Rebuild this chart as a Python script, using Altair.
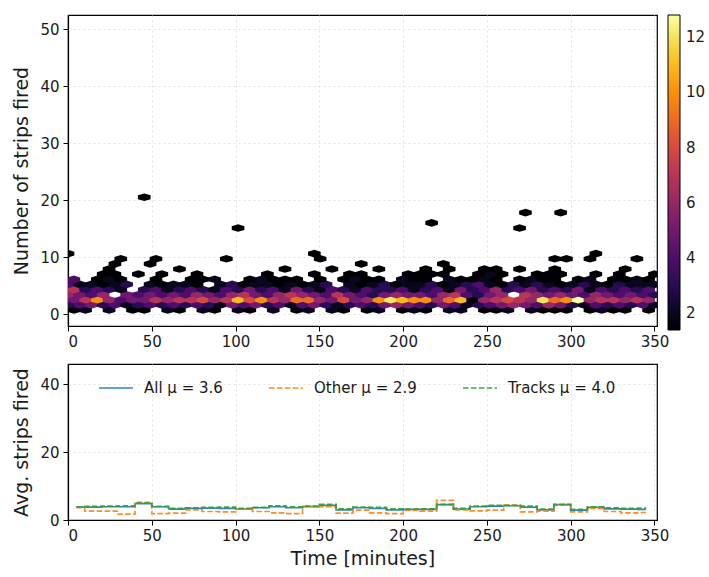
import altair as alt
import pandas as pd

# ---------------- hexbin cells (top panel) ----------------
# one string per hexagon row r (centre y = 0.7 + 0.9*r strips)
# even rows: centres at x = 3.5 + 7*i minutes ; odd rows: x = 7*i minutes
# '.' = empty bin, '1'..'9','a'..'d' = 1..13 events per bin
hex_rows = [
    "12.2.11.21" ".21.21.2.1" "2.21.12.12" "1.22.112.2" "111.1211.1",        # r0
    "3453423434" "3432545342" "4532343565" "4354234565" "4653243434" "2",    # r1
    "57a6455767" "7867b8a769" "965856acba" "a69b167876" "c9ad677676",        # r2
    "6546.54545" "4654675467" "6547543565" "54674356.7" "6565465454" "3",    # r3
    "73432.3423" "4324353425" "3243243342" "3425346345" "3435243434",        # r4
    "422123.212" "21.2312212" "123.212312" "2312342132" "3212321322" "2",    # r5
    "4.121..1.." "112..12111" ".1.1211.21" "1.21121.12" "11.12.1121",        # r6
    "...11.1.1." ".1.....1.." ".1..11...1" "111..121.." "111..1.1.." "1",    # r7
    "...1.....1" "........1." "..1...1..." "1.1..11.1." ".1.....1..",        # r8
    "....1..1.." ".........." ".....1...." "..1.......",                     # r9
    "....1..1.." "...1......" ".1........" ".........." ".11.1...1.",        # r10
    "1........." ".........." ".1........" ".........." ".....1....",        # r11
    "",                                                                      # r12
    "",                                                                      # r13
    "",                                                                      # r14
    "",                                                                      # r15
    ".........." "....1....." ".........." "........1.",                     # r16
    ".........." ".........." ".........." ".1........",                     # r17
    "",                                                                      # r18
    ".........." ".........." ".........." ".........1" "..1.......",        # r19
    "",                                                                      # r20
    "",                                                                      # r21
    "......1...",                                                            # r22
]
row_y0, row_dy = 0.7, 0.9
col_dx, even_x0, odd_x0 = 7.0, 3.5, 0.0

recs = []
for r, s in enumerate(hex_rows):
    for i, ch in enumerate(s):
        if ch == ".":
            continue
        x0 = even_x0 if r % 2 == 0 else odd_x0
        recs.append({"minutes": x0 + col_dx * i,
                     "strips": row_y0 + row_dy * r,
                     "events": int(ch, 16)})
hex_df = pd.DataFrame(recs)

# ---------------- average strips (bottom panel) ----------------
bin_centres = [5, 15, 25, 35, 45, 55, 65, 75, 85, 95, 105, 115, 125, 135, 145,
               155, 165, 175, 185, 195, 205, 215, 225, 235, 245, 255, 265, 275,
               285, 295, 305, 315, 325, 335, 345]
avg_all = [3.8, 3.8, 3.9, 3.9, 4.8, 3.9, 3.2, 3.4, 3.5, 3.4, 3.3, 3.6, 3.9, 3.6,
           3.9, 4.3, 3.0, 3.6, 3.4, 3.0, 3.1, 3.1, 4.5, 3.2, 3.9, 4.1, 4.2, 3.8,
           3.0, 4.5, 2.9, 3.7, 3.3, 3.2, 3.1]
avg_other = [3.6, 2.6, 2.6, 1.7, 5.2, 1.9, 2.0, 3.0, 2.5, 2.4, 3.3, 2.5, 2.1, 1.9,
             4.0, 3.9, 2.0, 2.9, 2.1, 1.9, 2.8, 2.6, 5.8, 3.0, 2.7, 2.9, 4.4, 2.4,
             2.6, 4.4, 2.4, 3.4, 2.5, 2.1, 2.2]
avg_tracks = [3.9, 4.0, 4.1, 4.2, 5.0, 4.0, 3.4, 3.6, 3.7, 3.8, 3.4, 3.7, 4.2, 3.9,
              4.1, 4.6, 3.3, 3.8, 3.7, 3.3, 3.2, 3.3, 4.6, 3.4, 4.1, 4.3, 4.3, 4.1,
              3.2, 4.6, 3.1, 3.9, 3.6, 3.4, 3.5]
series_names = ["All μ = 3.6", "Other μ = 2.9", "Tracks μ = 4.0"]
series_colors = ["#1f77b4", "#ff7f0e", "#2ca02c"]
series_dash = [[1, 0], [5.5, 2.4], [5.5, 2.4]]

line_recs = []
for name, vals in zip(series_names, [avg_all, avg_other, avg_tracks]):
    for t, v in zip(bin_centres, vals):
        line_recs.append({"minutes": t, "avg": v, "series": name})
line_df = pd.DataFrame(line_recs)

FONT = "DejaVu Sans"
x_ticks = [0, 50, 100, 150, 200, 250, 300, 350]
x_dom = [0, 351.5]

hex_path = "M1,-0.3L1,0.3L0,0.6L-1,0.3L-1,-0.3L0,-0.6Z"

top = alt.Chart(hex_df).mark_point(
    shape=hex_path, filled=True, size=160, opacity=1, clip=True
).encode(
    x=alt.X("minutes:Q", scale=alt.Scale(domain=x_dom, nice=False, zero=False),
            axis=alt.Axis(values=x_ticks, title=None, labelPadding=3)),
    y=alt.Y("strips:Q", scale=alt.Scale(domain=[-2.1, 52.5], nice=False, zero=False),
            axis=alt.Axis(values=[0, 10, 20, 30, 40, 50], title="Number of strips fired",
                          titlePadding=8, labelPadding=4)),
    color=alt.Color("events:Q",
                    scale=alt.Scale(scheme="inferno", domain=[1.4, 12.8], clamp=True),
                    legend=alt.Legend(type="gradient", title=None, orient="right", offset=11,
                                      padding=0, gradientLength=315, gradientThickness=12,
                                      values=[2, 4, 6, 8, 10, 12], labelFontSize=15,
                                      labelFont=FONT, labelColor="#1a1a1a",
                                      gradientStrokeColor="black", gradientStrokeWidth=1,
                                      labelOffset=6, direction="vertical")),
).properties(width=589, height=311)

leg = alt.Legend(title=None, orient="none", legendX=30, legendY=6, direction="horizontal",
                 columns=3, columnPadding=42, labelOffset=10, symbolType="stroke",
                 symbolSize=1150, symbolStrokeWidth=1.6, labelFontSize=15,
                 labelFont=FONT, labelColor="#1a1a1a", padding=0)

bottom = alt.Chart(line_df).mark_line(interpolate="step", strokeWidth=1.7, opacity=0.9).encode(
    x=alt.X("minutes:Q", scale=alt.Scale(domain=x_dom, nice=False, zero=False),
            axis=alt.Axis(values=x_ticks, title="Time [minutes]", labelPadding=3,
                          titlePadding=6)),
    y=alt.Y("avg:Q", scale=alt.Scale(domain=[0, 45.9], nice=False, zero=False),
            axis=alt.Axis(values=[0, 20, 40], title="Avg. strips fired",
                          titlePadding=8, labelPadding=4)),
    stroke=alt.Stroke("series:N", scale=alt.Scale(domain=series_names, range=series_colors),
                      legend=leg, sort=series_names),
    strokeDash=alt.StrokeDash("series:N", scale=alt.Scale(domain=series_names, range=series_dash),
                              legend=leg, sort=series_names),
).properties(width=589, height=156)

chart = alt.vconcat(top, bottom, spacing=13).resolve_scale(
    color="independent", stroke="independent", strokeDash="independent"
).resolve_legend(
    color="independent", stroke="independent", strokeDash="independent"
).properties(
    padding={"left": 12, "top": 14, "right": 0, "bottom": 5}
).configure(
    font=FONT
).configure_axis(
    labelFontSize=15, titleFontSize=19, labelColor="#1a1a1a", titleColor="#1a1a1a",
    titleFontWeight="normal", domainColor="black", domainWidth=1.2, tickColor="black",
    tickSize=5, gridColor="#dcdcdc", gridDash=[2, 3], gridWidth=0.8, labelFont=FONT,
    titleFont=FONT
).configure_view(stroke="black", strokeWidth=1.2)

chart.save("out.html", embed_options={"renderer": "svg", "actions": False})
